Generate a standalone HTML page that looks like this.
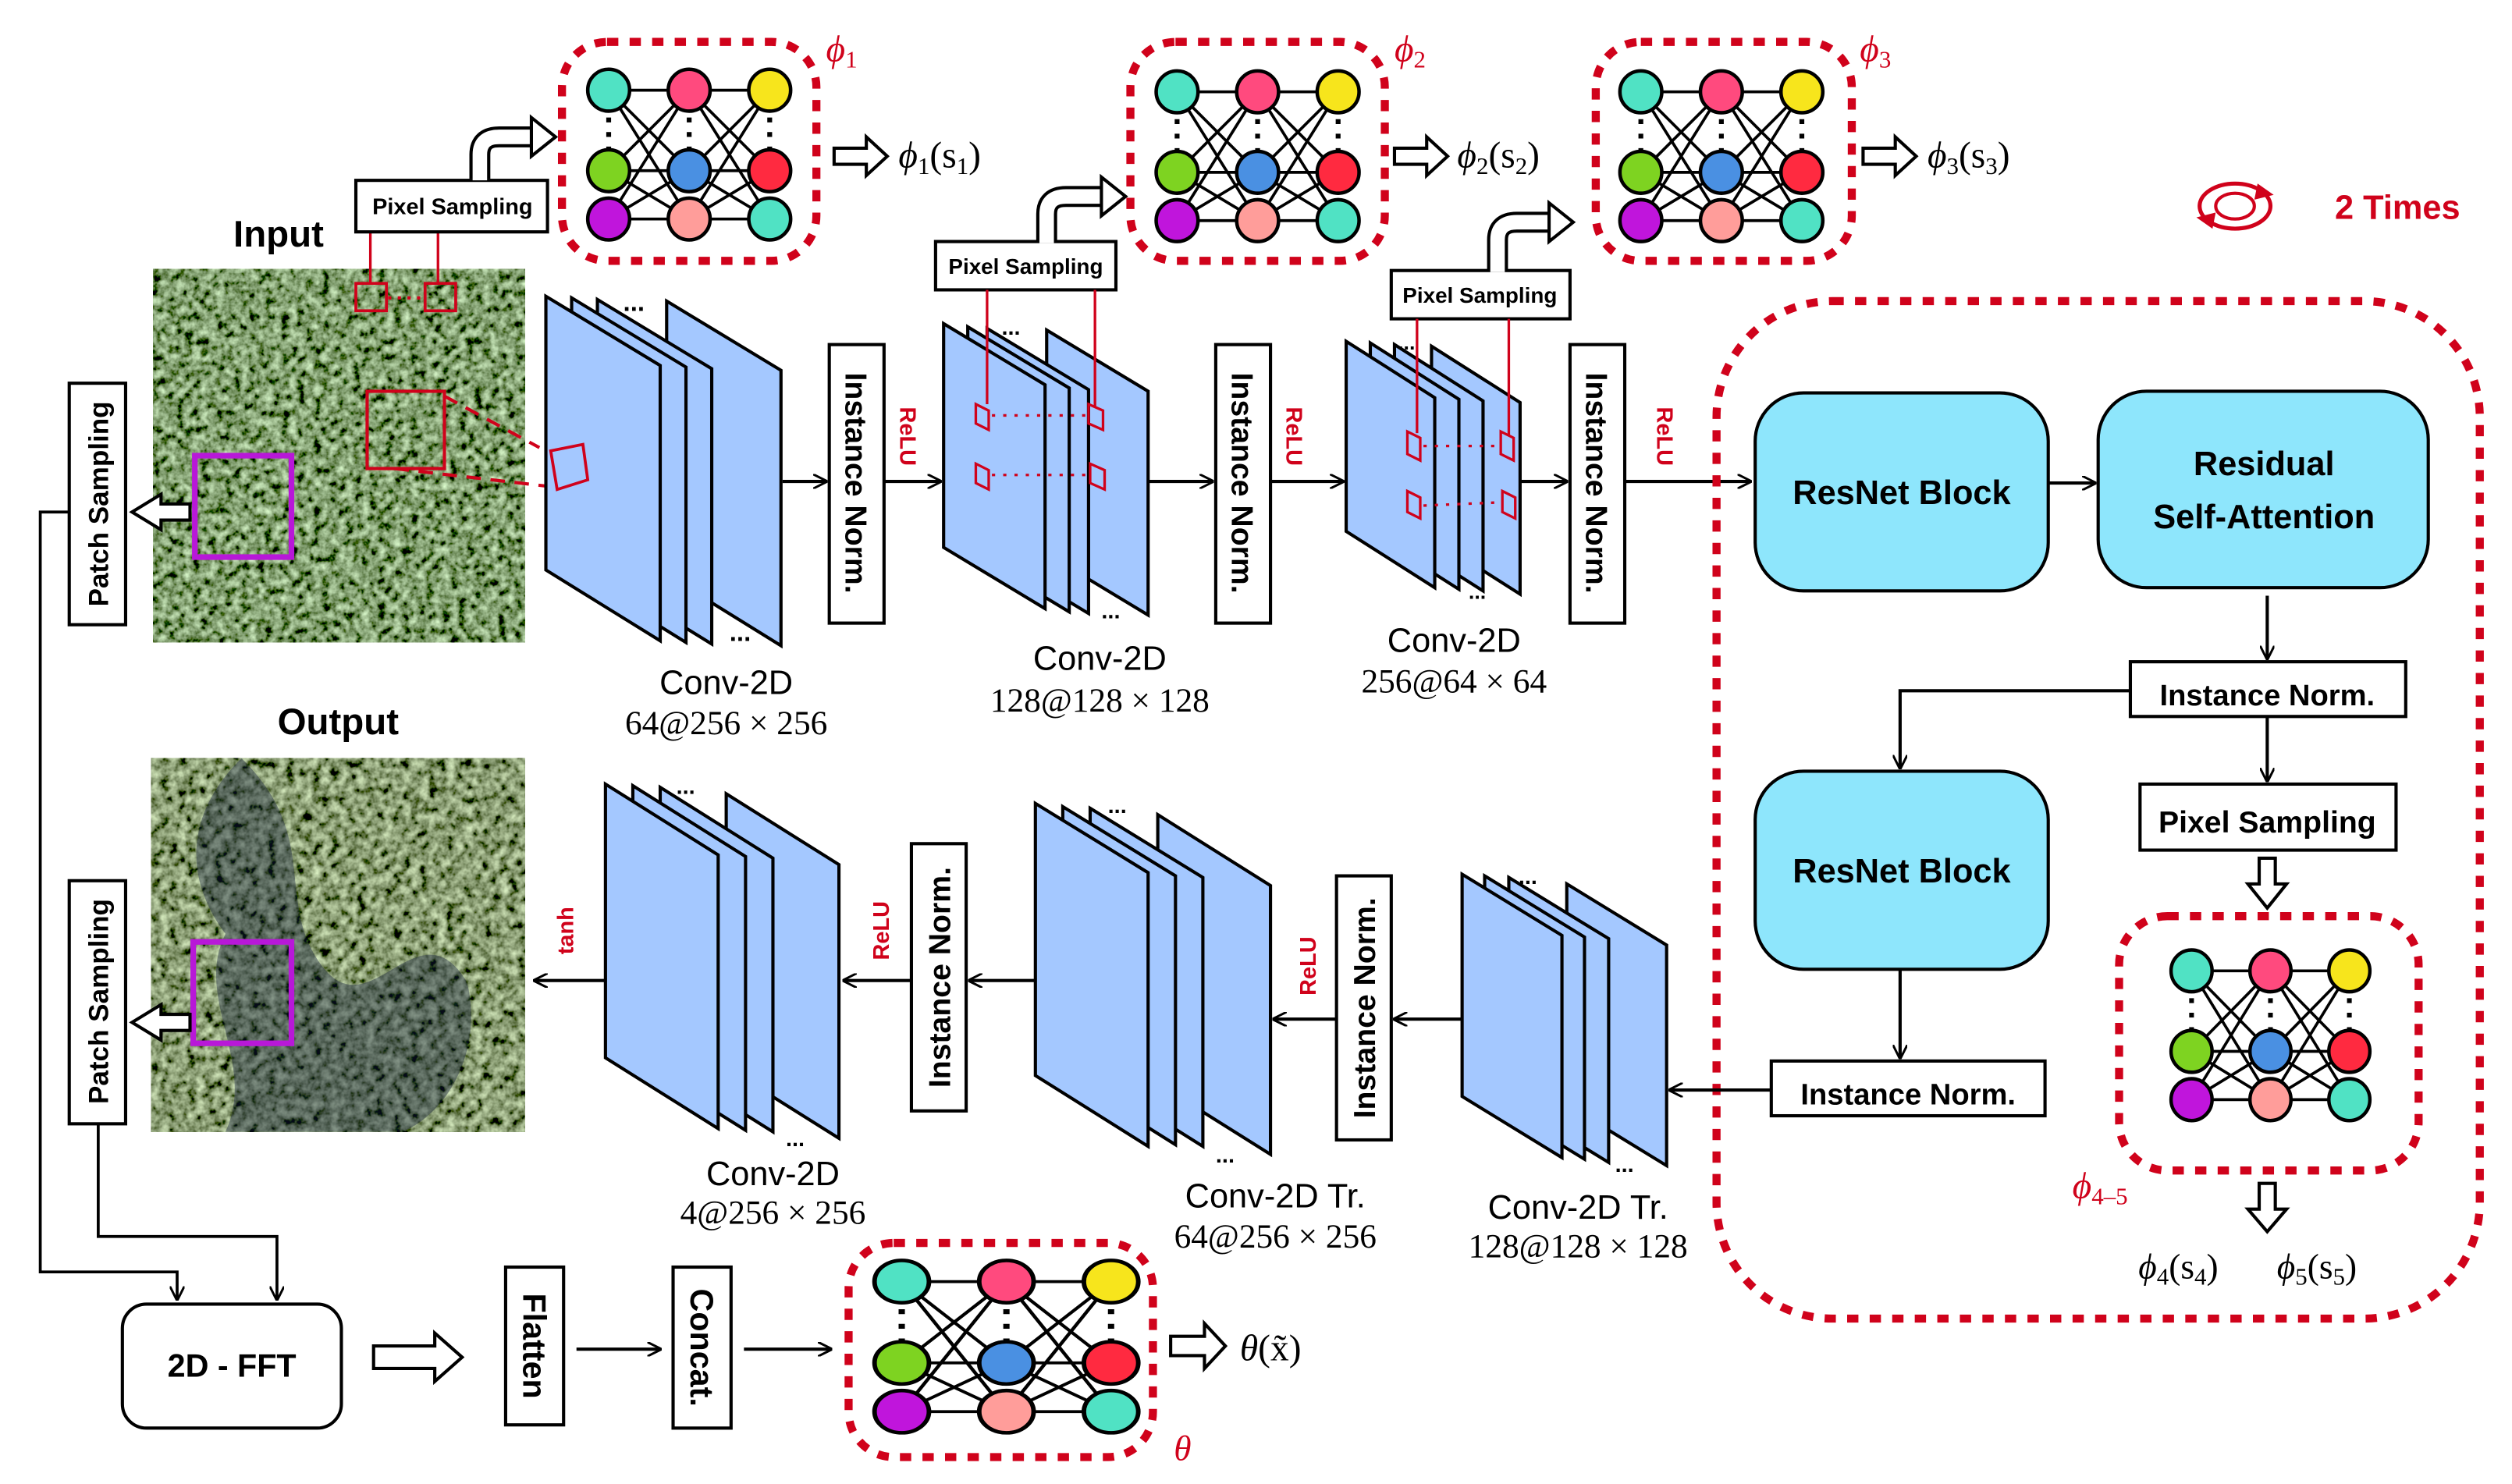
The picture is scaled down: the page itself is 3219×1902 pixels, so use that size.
<!DOCTYPE html>
<html><head><meta charset="utf-8"><style>
html,body{margin:0;padding:0;background:#fff;}
svg{display:block;}
.b{font-family:"Liberation Sans",sans-serif;font-weight:bold;}
.s{font-family:"Liberation Sans",sans-serif;}
.m{font-family:"Liberation Serif",serif;}
.mi{font-family:"Liberation Serif",serif;font-style:italic;}
</style></head><body>
<svg width="3219" height="1902" viewBox="0 0 1560 921.7" xmlns="http://www.w3.org/2000/svg">
<defs>
<filter id="tex" x="0" y="0" width="100%" height="100%">
<feTurbulence type="fractalNoise" baseFrequency="0.2" numOctaves="3" seed="4"/>
<feColorMatrix type="matrix" values="1.1 0 0 0 -0.33  1.4 0 0 0 -0.36  1.0 0 0 0 -0.34  0 0 0 0 1"/>
</filter>
<filter id="tex2" x="0" y="0" width="100%" height="100%">
<feTurbulence type="fractalNoise" baseFrequency="0.18" numOctaves="3" seed="9"/>
<feColorMatrix type="matrix" values="1.1 0 0 0 -0.3  1.3 0 0 0 -0.32  0.9 0 0 0 -0.28  0 0 0 0 1"/>
</filter>
<marker id="ar" viewBox="0 0 10 10" refX="9" refY="5" markerWidth="9" markerHeight="9" orient="auto-start-reverse" markerUnits="userSpaceOnUse"><path d="M0,0 L10,5 L0,10" fill="none" stroke="#000" stroke-width="1.6"/></marker>
<g id="nn">
<g stroke="#000" stroke-width="1.8">
<line x1="0" y1="0" x2="50" y2="0"/><line x1="0" y1="0" x2="50" y2="50"/><line x1="0" y1="0" x2="50" y2="80"/>
<line x1="0" y1="50" x2="50" y2="0"/><line x1="0" y1="50" x2="50" y2="50"/><line x1="0" y1="50" x2="50" y2="80"/>
<line x1="0" y1="80" x2="50" y2="0"/><line x1="0" y1="80" x2="50" y2="50"/><line x1="0" y1="80" x2="50" y2="80"/>
<line x1="50" y1="0" x2="100" y2="0"/><line x1="50" y1="0" x2="100" y2="50"/><line x1="50" y1="0" x2="100" y2="80"/>
<line x1="50" y1="50" x2="100" y2="0"/><line x1="50" y1="50" x2="100" y2="50"/><line x1="50" y1="50" x2="100" y2="80"/>
<line x1="50" y1="80" x2="100" y2="0"/><line x1="50" y1="80" x2="100" y2="50"/><line x1="50" y1="80" x2="100" y2="80"/>
</g>
<g stroke="#000" stroke-width="3" stroke-dasharray="3 6">
<line x1="0" y1="17" x2="0" y2="38"/><line x1="50" y1="17" x2="50" y2="38"/><line x1="100" y1="17" x2="100" y2="38"/>
</g>
<g stroke="#000" stroke-width="2.2">
<circle cx="0" cy="0" r="13" fill="#50e2c4"/><circle cx="0" cy="50" r="13" fill="#7ed321"/><circle cx="0" cy="80" r="13" fill="#c015dc"/>
<circle cx="50" cy="0" r="13" fill="#ff4a7e"/><circle cx="50" cy="50" r="13" fill="#4a90e2"/><circle cx="50" cy="80" r="13" fill="#ff9d9a"/>
<circle cx="100" cy="0" r="13" fill="#f7e51c"/><circle cx="100" cy="50" r="13" fill="#ff2a40"/><circle cx="100" cy="80" r="13" fill="#50e2c4"/>
</g>
</g>
</defs>

<!-- Input image -->
<text x="173" y="153" class="b" font-size="23" text-anchor="middle">Input</text>
<rect x="95" y="167" width="231" height="232" fill="#466a35" filter="url(#tex)"/>
<rect x="121" y="283" width="60" height="63" fill="none" stroke="#b818d8" stroke-width="3.5"/>
<rect x="228" y="243" width="48" height="48" fill="none" stroke="#d0021b" stroke-width="2"/>
<line x1="276" y1="246" x2="335" y2="278" stroke="#d0021b" stroke-width="2" stroke-dasharray="9 6"/>
<line x1="245" y1="291" x2="340" y2="302" stroke="#d0021b" stroke-width="2" stroke-dasharray="9 6"/>
<rect x="221" y="176" width="19" height="17" fill="none" stroke="#d0021b" stroke-width="1.8"/>
<rect x="264" y="176" width="19" height="17" fill="none" stroke="#d0021b" stroke-width="1.8"/>
<line x1="241" y1="185" x2="263" y2="185" stroke="#d0021b" stroke-width="2" stroke-dasharray="2 4"/>
<line x1="230" y1="144" x2="230" y2="176" stroke="#d0021b" stroke-width="1.6"/>
<line x1="272" y1="144" x2="272" y2="176" stroke="#d0021b" stroke-width="1.6"/>

<!-- Patch sampling 1 -->
<rect x="43" y="238" width="35" height="150" fill="#fff" stroke="#000" stroke-width="2"/>
<text transform="translate(67,313) rotate(-90)" class="b" font-size="17" text-anchor="middle">Patch Sampling</text>
<polygon points="118,313 100,313 100,307 82,318 100,329 100,323 118,323" fill="#fff" stroke="#000" stroke-width="2"/>
<!-- Output image -->
<text x="210" y="456" class="b" font-size="23" text-anchor="middle">Output</text>
<rect x="94" y="471" width="232" height="232" fill="#466a35" filter="url(#tex2)"/>
<path d="M150,471 C200,520 170,560 200,600 C230,640 260,560 290,610 C300,650 280,690 250,703 L140,703 C160,660 120,620 140,580 C110,540 120,500 150,471Z" fill="#0e1a3a" opacity="0.4"/>
<rect x="120" y="585" width="61" height="63" fill="none" stroke="#b818d8" stroke-width="3.5"/>
<rect x="43" y="547" width="35" height="151" fill="#fff" stroke="#000" stroke-width="2"/>
<text transform="translate(67,622) rotate(-90)" class="b" font-size="17" text-anchor="middle">Patch Sampling</text>
<polygon points="118,630 100,630 100,624 82,635 100,646 100,640 118,640" fill="#fff" stroke="#000" stroke-width="2"/>

<!-- Pixel sampling 1 + NN1 -->
<rect x="221" y="112" width="119" height="32" fill="#fff" stroke="#000" stroke-width="2"/>
<text x="281" y="133" class="b" font-size="14" text-anchor="middle">Pixel Sampling</text>
<path d="M298,111 V96 Q298,85 310,85 H330" fill="none" stroke="#000" stroke-width="13"/>
<path d="M298,112 V96 Q298,85 310,85 H332" fill="none" stroke="#fff" stroke-width="9"/>
<polygon points="330,73 345,85 330,97" fill="#fff" stroke="#000" stroke-width="2"/>
<rect x="349" y="26" width="158" height="136" rx="28" fill="none" stroke="#d0021b" stroke-width="5" stroke-dasharray="7 7"/>
<use href="#nn" transform="translate(378,56)"/>
<text x="513" y="38" class="mi" font-size="23" fill="#d0021b">ϕ<tspan font-style="normal" font-size="15" dy="4">1</tspan></text>
<polygon points="518,92 538,92 538,85 551,97 538,109 538,102 518,102" fill="#fff" stroke="#000" stroke-width="2"/>
<text x="558" y="104" class="m" font-size="23"><tspan font-style="italic">ϕ</tspan><tspan font-size="15" dy="4">1</tspan><tspan dy="-4">(s</tspan><tspan font-size="15" dy="4">1</tspan><tspan dy="-4">)</tspan></text>

<!-- NN2 -->
<rect x="581" y="150" width="112" height="30" fill="#fff" stroke="#000" stroke-width="2"/>
<text x="637" y="170" class="b" font-size="13.5" text-anchor="middle">Pixel Sampling</text>
<path d="M650,150 V133 Q650,122 662,122 H684" fill="none" stroke="#000" stroke-width="13"/>
<path d="M650,151 V133 Q650,122 662,122 H686" fill="none" stroke="#fff" stroke-width="9"/>
<polygon points="684,110 699,122 684,134" fill="#fff" stroke="#000" stroke-width="2"/>
<rect x="702" y="26" width="158" height="136" rx="28" fill="none" stroke="#d0021b" stroke-width="5" stroke-dasharray="7 7"/>
<use href="#nn" transform="translate(731,57)"/>
<text x="866" y="38" class="mi" font-size="23" fill="#d0021b">ϕ<tspan font-style="normal" font-size="15" dy="4">2</tspan></text>
<polygon points="866,92 886,92 886,85 899,97 886,109 886,102 866,102" fill="#fff" stroke="#000" stroke-width="2"/>
<text x="905" y="104" class="m" font-size="23"><tspan font-style="italic">ϕ</tspan><tspan font-size="15" dy="4">2</tspan><tspan dy="-4">(s</tspan><tspan font-size="15" dy="4">2</tspan><tspan dy="-4">)</tspan></text>

<!-- NN3 -->
<rect x="864" y="168" width="111" height="30" fill="#fff" stroke="#000" stroke-width="2"/>
<text x="919" y="188" class="b" font-size="13.5" text-anchor="middle">Pixel Sampling</text>
<path d="M930,168 V149 Q930,138 942,138 H962" fill="none" stroke="#000" stroke-width="13"/>
<path d="M930,169 V149 Q930,138 942,138 H964" fill="none" stroke="#fff" stroke-width="9"/>
<polygon points="962,126 977,138 962,150" fill="#fff" stroke="#000" stroke-width="2"/>
<rect x="991" y="26" width="159" height="136" rx="28" fill="none" stroke="#d0021b" stroke-width="5" stroke-dasharray="7 7"/>
<use href="#nn" transform="translate(1019,57)"/>
<text x="1155" y="38" class="mi" font-size="23" fill="#d0021b">ϕ<tspan font-style="normal" font-size="15" dy="4">3</tspan></text>
<polygon points="1157,92 1177,92 1177,85 1190,97 1177,109 1177,102 1157,102" fill="#fff" stroke="#000" stroke-width="2"/>
<text x="1197" y="104" class="m" font-size="23"><tspan font-style="italic">ϕ</tspan><tspan font-size="15" dy="4">3</tspan><tspan dy="-4">(s</tspan><tspan font-size="15" dy="4">3</tspan><tspan dy="-4">)</tspan></text>

<!-- 2 times -->
<ellipse cx="1388" cy="128" rx="22" ry="14" fill="none" stroke="#d0021b" stroke-width="2.5"/>
<ellipse cx="1388" cy="128" rx="12" ry="8" fill="none" stroke="#d0021b" stroke-width="2"/>
<polygon points="1402,114 1412,121 1400,124" fill="#d0021b"/>
<polygon points="1374,142 1364,135 1376,132" fill="#d0021b"/>
<text x="1450" y="136" class="b" font-size="21" fill="#d0021b">2 Times</text>

<!-- Conv1 -->
<g fill="#a4c8ff" stroke="#000" stroke-width="2">
<polygon points="414,187 485,230 485,401 414,357"/>
<polygon points="371,186 442,229 442,400 371,356"/>
<polygon points="355,185 426,228 426,399 355,355"/>
<polygon points="339,184 410,227 410,398 339,354"/>
</g>
<text x="387" y="193" class="b" font-size="16">...</text>
<text x="453" y="398" class="b" font-size="16">...</text>
<polygon points="342,280 362,276 365,298 346,304" fill="none" stroke="#d0021b" stroke-width="1.8"/>
<text x="451" y="431" class="s" font-size="21" text-anchor="middle">Conv-2D</text>
<text x="451" y="456" class="m" font-size="21" text-anchor="middle">64@256 × 256</text>

<line x1="486" y1="299" x2="513" y2="299" stroke="#000" stroke-width="2" marker-end="url(#ar)"/>
<rect x="515" y="214" width="34" height="173" fill="#fff" stroke="#000" stroke-width="2"/>
<text transform="translate(525,300) rotate(90)" class="b" font-size="19" text-anchor="middle">Instance Norm.</text>
<text transform="translate(559,271) rotate(90)" class="b" font-size="14" fill="#d0021b" text-anchor="middle">ReLU</text>
<line x1="549" y1="299" x2="584" y2="299" stroke="#000" stroke-width="2" marker-end="url(#ar)"/>

<!-- Conv2 -->
<g fill="#a4c8ff" stroke="#000" stroke-width="2">
<polygon points="650,205 713,243 713,382 650,344"/>
<polygon points="613,204 676,242 676,381 613,343"/>
<polygon points="601,203 664,241 664,380 601,342"/>
<polygon points="586,201 649,239 649,378 586,340"/>
</g>
<text x="622" y="208" class="b" font-size="14">...</text>
<text x="684" y="384" class="b" font-size="14">...</text>
<g fill="none" stroke="#d0021b" stroke-width="1.6">
<polygon points="606,251 614,255 614,267 606,263"/><polygon points="606,288 614,292 614,304 606,300"/>
<polygon points="676,251 685,255 685,267 676,263"/><polygon points="677,288 686,292 686,304 677,300"/>
<line x1="616" y1="258" x2="675" y2="258" stroke-dasharray="2 5"/><line x1="616" y1="295" x2="676" y2="295" stroke-dasharray="2 5"/>
<line x1="613" y1="180" x2="613" y2="251"/><line x1="680" y1="180" x2="680" y2="253"/>
</g>
<text x="683" y="416" class="s" font-size="21" text-anchor="middle">Conv-2D</text>
<text x="683" y="442" class="m" font-size="21" text-anchor="middle">128@128 × 128</text>

<line x1="713" y1="299" x2="753" y2="299" stroke="#000" stroke-width="2" marker-end="url(#ar)"/>
<rect x="755" y="214" width="34" height="173" fill="#fff" stroke="#000" stroke-width="2"/>
<text transform="translate(765,300) rotate(90)" class="b" font-size="19" text-anchor="middle">Instance Norm.</text>
<text transform="translate(799,271) rotate(90)" class="b" font-size="14" fill="#d0021b" text-anchor="middle">ReLU</text>
<line x1="789" y1="299" x2="834" y2="299" stroke="#000" stroke-width="2" marker-end="url(#ar)"/>

<!-- Conv3 -->
<g fill="#a4c8ff" stroke="#000" stroke-width="2">
<polygon points="889,215 944,250 944,369 889,334"/>
<polygon points="866,214 921,249 921,367 866,332"/>
<polygon points="851,213 906,248 906,366 851,331"/>
<polygon points="836,212 891,247 891,365 836,330"/>
</g>
<text x="868" y="217" class="b" font-size="13">...</text>
<text x="912" y="372" class="b" font-size="13">...</text>
<g fill="none" stroke="#d0021b" stroke-width="1.6">
<polygon points="874,268 882,272 882,286 874,282"/><polygon points="874,305 882,309 882,322 874,318"/>
<polygon points="932,268 940,272 940,286 932,282"/><polygon points="933,305 941,309 941,322 933,318"/>
<line x1="884" y1="277" x2="931" y2="277" stroke-dasharray="2 5"/><line x1="884" y1="314" x2="932" y2="312" stroke-dasharray="2 5"/>
<line x1="880" y1="198" x2="880" y2="269"/><line x1="937" y1="198" x2="937" y2="270"/>
</g>
<text x="903" y="405" class="s" font-size="21" text-anchor="middle">Conv-2D</text>
<text x="903" y="430" class="m" font-size="21" text-anchor="middle">256@64 × 64</text>

<line x1="944" y1="299" x2="973" y2="299" stroke="#000" stroke-width="2" marker-end="url(#ar)"/>
<rect x="975" y="214" width="34" height="173" fill="#fff" stroke="#000" stroke-width="2"/>
<text transform="translate(985,300) rotate(90)" class="b" font-size="19" text-anchor="middle">Instance Norm.</text>
<text transform="translate(1029,271) rotate(90)" class="b" font-size="14" fill="#d0021b" text-anchor="middle">ReLU</text>
<line x1="1009" y1="299" x2="1087" y2="299" stroke="#000" stroke-width="2" marker-end="url(#ar)"/>

<!-- big dotted box -->
<rect x="1066" y="187" width="474" height="632" rx="72" fill="none" stroke="#d0021b" stroke-width="5" stroke-dasharray="7 7"/>
<rect x="1090" y="244" width="182" height="123" rx="30" fill="#8ee6fc" stroke="#000" stroke-width="2"/>
<text x="1181" y="313" class="b" font-size="21" text-anchor="middle">ResNet Block</text>
<line x1="1272" y1="300" x2="1301" y2="300" stroke="#000" stroke-width="2" marker-end="url(#ar)"/>
<rect x="1303" y="243" width="205" height="122" rx="30" fill="#8ee6fc" stroke="#000" stroke-width="2"/>
<text x="1406" y="295" class="b" font-size="21" text-anchor="middle">Residual</text>
<text x="1406" y="328" class="b" font-size="21" text-anchor="middle">Self-Attention</text>
<line x1="1408" y1="370" x2="1408" y2="409" stroke="#000" stroke-width="2" marker-end="url(#ar)"/>
<rect x="1323" y="411" width="171" height="34" fill="#fff" stroke="#000" stroke-width="2"/>
<text x="1408" y="438" class="b" font-size="18.5" text-anchor="middle">Instance Norm.</text>
<polyline points="1323,429 1180,429 1180,477" fill="none" stroke="#000" stroke-width="2" marker-end="url(#ar)"/>
<line x1="1408" y1="445" x2="1408" y2="485" stroke="#000" stroke-width="2" marker-end="url(#ar)"/>
<rect x="1329" y="487" width="159" height="41" fill="#fff" stroke="#000" stroke-width="2"/>
<text x="1408" y="517" class="b" font-size="19" text-anchor="middle">Pixel Sampling</text>
<polygon points="1403,533 1413,533 1413,549 1420,549 1408,564 1396,549 1403,549" fill="#fff" stroke="#000" stroke-width="2"/>
<rect x="1316" y="569" width="186" height="158" rx="30" fill="none" stroke="#d0021b" stroke-width="5" stroke-dasharray="7 7"/>
<use href="#nn" transform="translate(1361,603) scale(0.98,1)"/>
<text x="1287" y="744" class="mi" font-size="23" fill="#d0021b">ϕ<tspan font-style="normal" font-size="15" dy="4">4–5</tspan></text>
<polygon points="1403,735 1413,735 1413,751 1420,751 1408,765 1396,751 1403,751" fill="#fff" stroke="#000" stroke-width="2"/>
<text x="1328" y="794" class="m" font-size="22"><tspan font-style="italic">ϕ</tspan><tspan font-size="15" dy="4">4</tspan><tspan dy="-4">(s</tspan><tspan font-size="15" dy="4">4</tspan><tspan dy="-4">)</tspan></text>
<text x="1414" y="794" class="m" font-size="22"><tspan font-style="italic">ϕ</tspan><tspan font-size="15" dy="4">5</tspan><tspan dy="-4">(s</tspan><tspan font-size="15" dy="4">5</tspan><tspan dy="-4">)</tspan></text>

<rect x="1090" y="479" width="182" height="123" rx="30" fill="#8ee6fc" stroke="#000" stroke-width="2"/>
<text x="1181" y="548" class="b" font-size="21" text-anchor="middle">ResNet Block</text>
<line x1="1180" y1="602" x2="1180" y2="657" stroke="#000" stroke-width="2" marker-end="url(#ar)"/>
<rect x="1100" y="659" width="170" height="34" fill="#fff" stroke="#000" stroke-width="2"/>
<text x="1185" y="686" class="b" font-size="18.5" text-anchor="middle">Instance Norm.</text>
<line x1="1100" y1="677" x2="1037" y2="677" stroke="#000" stroke-width="2" marker-end="url(#ar)"/>

<!-- Conv Tr 128 -->
<g fill="#a4c8ff" stroke="#000" stroke-width="2">
<polygon points="973,549 1035,587 1035,724 973,686"/>
<polygon points="937,545 999,583 999,722 937,684"/>
<polygon points="922,544 984,582 984,720 922,682"/>
<polygon points="908,543 970,581 970,719 908,681"/>
</g>
<text x="943" y="549" class="b" font-size="14">...</text>
<text x="1003" y="728" class="b" font-size="14">...</text>
<text x="980" y="757" class="s" font-size="21" text-anchor="middle">Conv-2D Tr.</text>
<text x="980" y="781" class="m" font-size="21" text-anchor="middle">128@128 × 128</text>

<line x1="908" y1="633" x2="866" y2="633" stroke="#000" stroke-width="2" marker-end="url(#ar)"/>
<rect x="830" y="544" width="34" height="164" fill="#fff" stroke="#000" stroke-width="2"/>
<text transform="translate(840,626) rotate(-90)" class="b" font-size="19" text-anchor="middle" dy="14">Instance Norm.</text>
<text transform="translate(817,600) rotate(-90)" class="b" font-size="14" fill="#d0021b" text-anchor="middle">ReLU</text>
<line x1="830" y1="633" x2="791" y2="633" stroke="#000" stroke-width="2" marker-end="url(#ar)"/>

<!-- Conv Tr 64 -->
<g fill="#a4c8ff" stroke="#000" stroke-width="2">
<polygon points="719,506 789,550 789,717 719,673"/>
<polygon points="677,502 747,545 747,712 677,668"/>
<polygon points="660,501 730,544 730,711 660,667"/>
<polygon points="643,499 713,542 713,712 643,668"/>
</g>
<text x="688" y="505" class="b" font-size="14">...</text>
<text x="755" y="722" class="b" font-size="14">...</text>
<text x="792" y="750" class="s" font-size="21" text-anchor="middle">Conv-2D Tr.</text>
<text x="792" y="775" class="m" font-size="21" text-anchor="middle">64@256 × 256</text>

<line x1="643" y1="609" x2="602" y2="609" stroke="#000" stroke-width="2" marker-end="url(#ar)"/>
<rect x="566" y="524" width="34" height="166" fill="#fff" stroke="#000" stroke-width="2"/>
<text transform="translate(576,607) rotate(-90)" class="b" font-size="19" text-anchor="middle" dy="14">Instance Norm.</text>
<text transform="translate(552,578) rotate(-90)" class="b" font-size="14" fill="#d0021b" text-anchor="middle">ReLU</text>
<line x1="566" y1="609" x2="524" y2="609" stroke="#000" stroke-width="2" marker-end="url(#ar)"/>

<!-- Conv 4 -->
<g fill="#a4c8ff" stroke="#000" stroke-width="2">
<polygon points="451,493 521,537 521,707 451,663"/>
<polygon points="410,489 480,533 480,703 410,659"/>
<polygon points="393,488 463,532 463,702 393,658"/>
<polygon points="376,487 446,531 446,701 376,657"/>
</g>
<text x="420" y="493" class="b" font-size="14">...</text>
<text x="488" y="712" class="b" font-size="14">...</text>
<text x="480" y="736" class="s" font-size="21" text-anchor="middle">Conv-2D</text>
<text x="480" y="760" class="m" font-size="21" text-anchor="middle">4@256 × 256</text>
<text transform="translate(356,578) rotate(-90)" class="b" font-size="14" fill="#d0021b" text-anchor="middle">tanh</text>
<line x1="376" y1="609" x2="332" y2="609" stroke="#000" stroke-width="2" marker-end="url(#ar)"/>

<!-- bottom pipeline -->
<polyline points="43,318 25,318 25,790 110,790 110,807" fill="none" stroke="#000" stroke-width="1.8" marker-end="url(#ar)"/>
<polyline points="61,698 61,768 172,768 172,807" fill="none" stroke="#000" stroke-width="1.8" marker-end="url(#ar)"/>
<rect x="76" y="810" width="136" height="77" rx="15" fill="#fff" stroke="#000" stroke-width="2"/>
<text x="144" y="855" class="b" font-size="20" text-anchor="middle">2D - FFT</text>
<polygon points="232,836 270,836 270,828 287,843 270,858 270,850 232,850" fill="#fff" stroke="#000" stroke-width="2"/>
<rect x="314" y="787" width="36" height="98" fill="#fff" stroke="#000" stroke-width="2"/>
<text transform="translate(325,836) rotate(90)" class="b" font-size="20" text-anchor="middle">Flatten</text>
<line x1="358" y1="838" x2="410" y2="838" stroke="#000" stroke-width="2" marker-end="url(#ar)"/>
<rect x="418" y="787" width="36" height="100" fill="#fff" stroke="#000" stroke-width="2"/>
<text transform="translate(429,837) rotate(90)" class="b" font-size="20" text-anchor="middle">Concat.</text>
<line x1="462" y1="838" x2="516" y2="838" stroke="#000" stroke-width="2" marker-end="url(#ar)"/>
<rect x="527" y="772" width="189" height="133" rx="28" fill="none" stroke="#d0021b" stroke-width="5" stroke-dasharray="7 7"/>
<use href="#nn" transform="translate(560,796) scale(1.3,1.01)"/>
<text x="729" y="907" class="mi" font-size="22" fill="#d0021b">θ</text>
<polygon points="727,830 748,830 748,822 761,836 748,850 748,842 727,842" fill="#fff" stroke="#000" stroke-width="2"/>
<text x="770" y="845" class="m" font-size="23"><tspan font-style="italic">θ</tspan>(x̃)</text>
</svg>
</body></html>
